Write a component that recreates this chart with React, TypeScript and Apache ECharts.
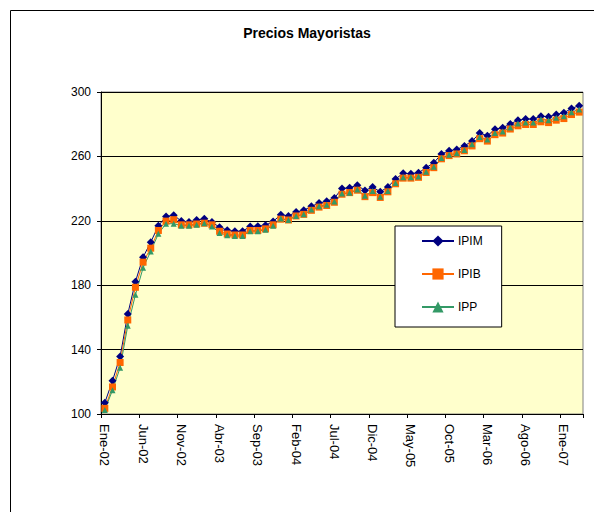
import React, { useEffect, useRef } from "react";
import * as echarts from "echarts";

const monthNames = ["Ene", "Feb", "Mar", "Abr", "May", "Jun", "Jul", "Ago", "Sep", "Oct", "Nov", "Dic"];
const years = ["02", "03", "04", "05", "06", "07"];
const categories: string[] = [];
for (const y of years) {
  for (const m of monthNames) {
    if (categories.length < 63) categories.push(`${m}-${y}`);
  }
}

const ipim = [107.0, 120.6, 135.7, 162.1, 182.2, 197.4, 206.7, 216.9, 222.7, 223.5, 219.8, 219.2,
  220.5, 221.2, 219.2, 216.0, 214.2, 213.5, 213.5, 216.5, 216.6, 217.2, 219.6, 223.8,
  223.0, 225.5, 226.5, 229.0, 231.0, 232.1, 234.1, 240.0, 240.5, 242.1, 238.8, 241.0,
  238.0, 241.0, 246.0, 249.5, 249.3, 249.8, 253.0, 256.0, 261.5, 263.5, 264.3, 266.5,
  269.5, 274.5, 272.8, 276.9, 277.8, 280.2, 282.5, 283.2, 283.2, 285.0, 284.6, 286.1,
  287.1, 289.8, 291.5];

const ipib = [103.5, 116.8, 132.0, 158.4, 178.7, 194.3, 203.0, 214.0, 219.8, 220.7, 217.5, 217.5,
  218.0, 218.5, 217.5, 213.5, 211.8, 211.2, 211.2, 214.0, 214.0, 215.0, 217.5, 221.0,
  220.5, 223.0, 224.0, 226.5, 228.5, 229.5, 231.5, 236.5, 237.5, 239.0, 235.0, 237.5,
  234.5, 238.0, 243.0, 246.5, 246.5, 247.0, 250.0, 253.0, 258.5, 260.5, 261.5, 263.5,
  266.5, 271.0, 269.5, 273.5, 274.5, 277.0, 279.0, 279.8, 279.8, 281.5, 281.0, 282.5,
  283.5, 286.0, 287.5];

const ipp = [102.5, 114.8, 128.8, 154.8, 174.0, 190.8, 201.0, 212.0, 218.2, 218.2, 217.0, 217.0,
  217.5, 218.5, 216.5, 212.5, 211.0, 210.5, 210.5, 213.5, 213.5, 214.5, 217.0, 221.5,
  220.5, 223.0, 224.0, 227.0, 229.0, 230.0, 232.0, 237.0, 237.5, 239.5, 235.5, 238.5,
  235.0, 238.5, 243.5, 247.0, 247.0, 247.5, 250.5, 253.5, 259.0, 261.0, 262.0, 264.0,
  267.5, 272.0, 270.5, 274.5, 275.5, 278.0, 280.5, 281.0, 281.0, 283.0, 282.5, 284.0,
  285.0, 287.5, 289.2];

const FONT = "'Liberation Sans', Arial, sans-serif";

export default function App() {
  const ref = useRef<HTMLDivElement>(null);
  useEffect(() => {
    if (!ref.current) return;
    const chart = echarts.init(ref.current, undefined, { renderer: "svg" });
    const mk = (name: string, data: number[], color: string, symbol: string, size: number) => ({
      name,
      type: "line",
      data,
      symbol,
      symbolSize: size,
      showAllSymbol: true,
      lineStyle: { color, width: 1 },
      itemStyle: { color, borderWidth: 0 },
      emphasis: { disabled: true },
    });
    chart.setOption({
      animation: false,
      backgroundColor: "#ffffff",
      textStyle: { fontFamily: FONT },
      graphic: [
        {
          type: "rect",
          shape: { x: 10.5, y: 10.5, width: 700, height: 700 },
          style: { fill: "none", stroke: "#000000", lineWidth: 1 },
          silent: true,
          z: -10,
        },
        {
          type: "text",
          x: 307,
          y: 33,
          style: {
            text: "Precios Mayoristas",
            fontFamily: FONT,
            fontSize: 14,
            fontWeight: "bold",
            fill: "#000000",
            textAlign: "center",
            textVerticalAlign: "middle",
          },
        },
      ],
      grid: {
        left: 101,
        top: 92,
        width: 482,
        height: 322,
        show: true,
        backgroundColor: "#FFFFCC",
        borderColor: "#808080",
        borderWidth: 1,
      },
      legend: {
        orient: "vertical",
        left: 395,
        top: 226,
        padding: [9, 19, 14, 26],
        itemWidth: 32,
        itemHeight: 14,
        itemGap: 21,
        backgroundColor: "#ffffff",
        borderColor: "#000000",
        borderWidth: 1,
        textStyle: { fontFamily: FONT, fontSize: 12, color: "#000000", padding: [0, 0, 0, -1] },
        data: ["IPIM", "IPIB", "IPP"],
      },
      xAxis: {
        type: "category",
        data: categories,
        boundaryGap: true,
        axisLine: { lineStyle: { color: "#000000", width: 1 } },
        axisTick: { show: true, interval: 4, length: 4, inside: false, lineStyle: { color: "#000000" } },
        axisLabel: {
          interval: 4,
          rotate: -90,
          margin: 10,
          fontFamily: FONT,
          fontSize: 13,
          color: "#000000",
        },
        splitLine: { show: false },
      },
      yAxis: {
        type: "value",
        min: 100,
        max: 300,
        interval: 40,
        axisLine: { show: true, lineStyle: { color: "#000000", width: 1 } },
        axisTick: { show: true, length: 4, lineStyle: { color: "#000000" } },
        axisLabel: { margin: 10, fontFamily: FONT, fontSize: 12, color: "#000000" },
        splitLine: { show: true, lineStyle: { color: "#000000", width: 1 } },
      },
      series: [
        mk("IPIM", ipim, "#000080", "diamond", 8),
        mk("IPIB", ipib, "#FF6600", "rect", 7),
        mk("IPP", ipp, "#339966", "triangle", 6),
      ],
    });
    return () => chart.dispose();
  }, []);
  return (
    <div
      ref={ref}
      style={{ position: "absolute", left: 0, top: 0, width: 594, height: 512, background: "#ffffff" }}
    />
  );
}
